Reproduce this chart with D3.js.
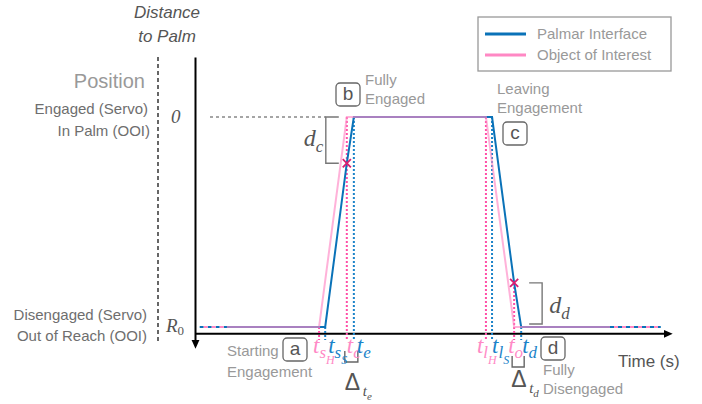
<!DOCTYPE html>
<html>
<head>
<meta charset="utf-8">
<script src="https://cdn.jsdelivr.net/npm/d3@7"></script>
<style>
  body { margin: 0; background: #fff; }
  text { font-family: "Liberation Sans", Arial, sans-serif; }
  .serif { font-family: "Liberation Serif", "Times New Roman", serif; font-style: italic; }
</style>
</head>
<body>
<svg id="chart" width="702" height="404"></svg>
<script>
// time runs 0..100 (arbitrary units), distance to palm: 0 = in palm, 1 = R0
var palmarT = [6.8, 27.7, 32.3, 33.8, 63.2, 67.9, 69.4, 88.3];
var palmarD = [1, 1, 0.22, 0, 0, 0.79, 1, 1];
var ooiT = [6.8, 26.4, 32.3, 61.9, 67.9, 88.3];
var ooiD = [1, 1, 0, 0, 1, 1];
var tailT = [[1, 6.8], [88.3, 99.1]];   // dashed continuation at R0
var markT = [32.3, 67.9];               // x markers (d_c, d_d)
var markD = [0.22, 0.79];

var tickTimes = [26.4, 27.7, 32.3, 33.8, 61.9, 63.2, 67.9, 69.4];
var tickSeries = ["ooi", "palm", "ooi", "palm", "ooi", "palm", "ooi", "palm"];
var tickSub = ["s", "s", "c", "e", "l", "l", "o", "d"];
var tickSubSub = ["H", "S", "", "", "H", "S", "", ""];
var tickFrom = [1, 1, 0, 0, 0, 0, 0.79, 1];
var tickDx = [-6, 3, 0, 3, -9, 0, -6, 1];

var legendNames = ["Palmar Interface", "Object of Interest"];

var svg = d3.select("#chart");

var x = d3.scaleLinear().domain([0, 100]).range([195, 665]);
var y = d3.scaleLinear().domain([-0.2857, 1.0667]).range([57, 341]);

var blue = "#0a72b8", pink = "#ff88c4", pinkDot = "#ff4fa7", blueDot = "#1b83c9";
var grey = "#555", light = "#999";
var col = function(s) { return s == "palm" ? blue : pink; };
var dotCol = function(s) { return s == "palm" ? blueDot : pinkDot; };

svg.append("defs").append("marker")
    .attr("id", "arrow")
    .attr("viewBox", "0 -5 10 10")
    .attr("refX", 2).attr("refY", 0)
    .attr("markerWidth", 9).attr("markerHeight", 9)
    .attr("markerUnits", "userSpaceOnUse")
    .attr("orient", "auto")
  .append("path")
    .attr("d", "M0,-4.5L10,0L0,4.5Z")
    .attr("fill", "#000");

// axes
svg.append("g")
    .attr("transform", "translate(0," + y(1.03) + ")")
    .call(d3.axisBottom(x).tickValues([]).tickSizeOuter(0))
  .select(".domain")
    .attr("stroke", "#000").attr("stroke-width", 2)
    .attr("marker-end", "url(#arrow)");

svg.append("g")
    .attr("transform", "translate(" + x(0) + ",0)")
    .call(d3.axisLeft(y).tickValues([]).tickSizeOuter(0))
  .select(".domain")
    .attr("stroke", "#000").attr("stroke-width", 2)
    .attr("marker-end", "url(#arrow)");

// grey dashed separator
svg.append("line")
    .attr("x1", 158).attr("x2", 158)
    .attr("y1", y(-0.2857)).attr("y2", 343)
    .attr("stroke", "#666").attr("stroke-width", 2)
    .attr("stroke-dasharray", "4,3");

// dashed reference at 0
svg.append("line")
    .attr("x1", 210).attr("x2", x(markT[0]) - 21)
    .attr("y1", y(0)).attr("y2", y(0))
    .attr("stroke", "#888").attr("stroke-width", 1.3)
    .attr("stroke-dasharray", "3,3");

var line = d3.line()
    .x(function(d) { return x(d[0]); })
    .y(function(d) { return y(d[1]); });

// dashed tails
tailT.forEach(function(t) {
  svg.append("path")
      .attr("d", line([[t[0], 1], [t[1], 1]]))
      .attr("fill", "none").attr("stroke", blue).attr("stroke-width", 2)
      .attr("stroke-dasharray", "4,4");
  svg.append("path")
      .attr("d", line([[t[0], 1], [t[1], 1]]))
      .attr("fill", "none").attr("stroke", pink).attr("stroke-width", 2)
      .attr("stroke-dasharray", "4,4").attr("stroke-dashoffset", 4);
});

// vertical dotted time markers
svg.selectAll(".tick-line")
  .data(tickTimes)
  .enter().append("line")
    .attr("class", "tick-line")
    .attr("x1", function(d) { return x(d); })
    .attr("x2", function(d) { return x(d); })
    .attr("y1", function(d, i) { return y(tickFrom[i]); })
    .attr("y2", y(1.062))
    .attr("stroke", function(d, i) { return dotCol(tickSeries[i]); })
    .attr("stroke-width", 2)
    .attr("stroke-dasharray", "2,2");

// series
svg.append("path")
    .attr("d", line(d3.zip(palmarT, palmarD)))
    .attr("fill", "none").attr("stroke", blue).attr("stroke-width", 2);

svg.append("path")
    .attr("d", line(d3.zip(ooiT, ooiD)))
    .attr("fill", "none").attr("stroke", pink).attr("stroke-width", 2)
    .attr("stroke-opacity", 0.65);

// x markers
svg.selectAll(".mark")
  .data(d3.zip(markT, markD))
  .enter().append("path")
    .attr("class", "mark")
    .attr("transform", function(d) { return "translate(" + x(d[0]) + "," + y(d[1]) + ")"; })
    .attr("d", d3.symbol().type(d3.symbolX).size(45))
    .attr("fill", "none").attr("stroke", "#d81e72").attr("stroke-width", 1.8);

// d_c and d_d brackets
var bc = x(markT[0]);
svg.append("path")
    .attr("d", "M" + (bc - 8) + "," + y(0) + "H" + (bc - 21) + "V" + y(markD[0]) + "H" + (bc - 8))
    .attr("fill", "none").attr("stroke", "#777").attr("stroke-width", 1.4);
var bd = x(markT[1]);
svg.append("path")
    .attr("d", "M" + (bd + 15) + "," + y(markD[1]) + "H" + (bd + 28) + "V" + (y(1) - 3) + "H" + (bd + 15))
    .attr("fill", "none").attr("stroke", "#777").attr("stroke-width", 1.4);

var dc = svg.append("text").attr("class", "serif").attr("fill", grey)
    .attr("x", bc - 43).attr("y", y(markD[0]) - 17);
dc.append("tspan").attr("font-size", 24).text("d");
dc.append("tspan").attr("font-size", 17).attr("dy", 6).text("c");
var dd = svg.append("text").attr("class", "serif").attr("fill", grey)
    .attr("x", bd + 35).attr("y", 313);
dd.append("tspan").attr("font-size", 24).text("d");
dd.append("tspan").attr("font-size", 17).attr("dy", 6).text("d");

// Delta brackets
svg.append("path")
    .attr("d", "M" + (x(tickTimes[2]) - 2) + ",351V362H" + (x(tickTimes[3]) + 4) + "V351")
    .attr("fill", "none").attr("stroke", "#666").attr("stroke-width", 1.4);
svg.append("path")
    .attr("d", "M" + (x(tickTimes[6]) - 2) + ",356V367H" + (x(tickTimes[7]) + 3) + "V356")
    .attr("fill", "none").attr("stroke", "#666").attr("stroke-width", 1.4);

function delta(px, py, sub) {
  var g = svg.append("g");
  g.append("text").attr("x", px).attr("y", py).attr("font-size", 23)
      .attr("fill", grey).text("\u0394");
  var t = g.append("text").attr("class", "serif").attr("fill", grey)
      .attr("x", px + 18).attr("y", py + 6);
  t.append("tspan").attr("font-size", 15).text("t");
  t.append("tspan").attr("font-size", 11).attr("dy", 4).text(sub);
}
delta(x(tickTimes[2]) - 2, 390, "e");
delta(x(tickTimes[6]) - 3, 387, "d");

// time tick labels
tickTimes.forEach(function(t, i) {
  var lab = svg.append("text").attr("class", "serif")
      .attr("fill", col(tickSeries[i]) == blue ? blueDot : "#ff8ac6")
      .attr("x", x(t) + tickDx[i]).attr("y", 353);
  lab.append("tspan").attr("font-size", 23).text("t");
  lab.append("tspan").attr("font-size", 17).attr("dy", 5).text(tickSub[i]);
  if (tickSubSub[i]) lab.append("tspan").attr("font-size", 12).attr("dy", 6).text(tickSubSub[i]);
});

// y value labels
svg.append("text").attr("class", "serif").attr("fill", grey)
    .attr("x", 171).attr("y", y(0) + 6).attr("font-size", 19).text("0");
var r0 = svg.append("text").attr("class", "serif").attr("fill", grey)
    .attr("x", 166).attr("y", y(1) + 5);
r0.append("tspan").attr("font-size", 19).text("R");
r0.append("tspan").attr("font-size", 13).attr("dy", 3).attr("font-style", "normal").text("0");

// left titles
svg.append("text").attr("x", 167).attr("y", 18).attr("text-anchor", "middle")
    .attr("font-size", 17).attr("font-style", "italic").attr("fill", grey).text("Distance");
svg.append("text").attr("x", 167).attr("y", 42).attr("text-anchor", "middle")
    .attr("font-size", 17).attr("font-style", "italic").attr("fill", grey).text("to Palm");
svg.append("text").attr("x", 145).attr("y", 88).attr("text-anchor", "end")
    .attr("font-size", 20).attr("fill", light).text("Position");

var sideLabels = [["Engaged (Servo)", 148, 114], ["In Palm (OOI)", 150, 136],
                  ["Disengaged (Servo)", 147, 320], ["Out of Reach (OOI)", 147, 341]];
sideLabels.forEach(function(s) {
  svg.append("text").attr("x", s[1]).attr("y", s[2]).attr("text-anchor", "end")
      .attr("font-size", 15).attr("fill", "#6e6e6e").text(s[0]);
});

// phase boxes
function box(px, py, letter) {
  svg.append("rect").attr("x", px).attr("y", py).attr("width", 24).attr("height", 23)
      .attr("rx", 4).attr("fill", "#fff").attr("stroke", "#666").attr("stroke-width", 1.3);
  svg.append("text").attr("x", px + 12).attr("y", py + 17).attr("text-anchor", "middle")
      .attr("font-size", 19).attr("fill", grey).text(letter);
}
box(283, 338, "a");
box(336, 83, "b");
box(503, 122, "c");
box(541, 337, "d");

var notes = [["Starting", 227, 356], ["Engagement", 227, 377],
             ["Fully", 365, 85], ["Engaged", 365, 104],
             ["Leaving", 497, 94], ["Engagement", 497, 113],
             ["Fully", 543, 375], ["Disengaged", 543, 394]];
notes.forEach(function(n) {
  svg.append("text").attr("x", n[1]).attr("y", n[2])
      .attr("font-size", 15).attr("fill", light).text(n[0]);
});

svg.append("text").attr("x", 618).attr("y", 367)
    .attr("font-size", 17).attr("fill", grey).text("Time (s)");

// legend
var legend = svg.append("g").attr("transform", "translate(478,17)");
legend.append("rect").attr("width", 193).attr("height", 54)
    .attr("fill", "#fff").attr("stroke", "#999").attr("stroke-width", 1.3);
legendNames.forEach(function(name, i) {
  legend.append("line").attr("x1", 7).attr("x2", 48)
      .attr("y1", 17 + i * 21).attr("y2", 17 + i * 21)
      .attr("stroke", i == 0 ? blue : pink).attr("stroke-width", 3);
  legend.append("text").attr("x", 59).attr("y", 22 + i * 21)
      .attr("font-size", 15).attr("fill", light).text(name);
});
</script>
</body>
</html>
